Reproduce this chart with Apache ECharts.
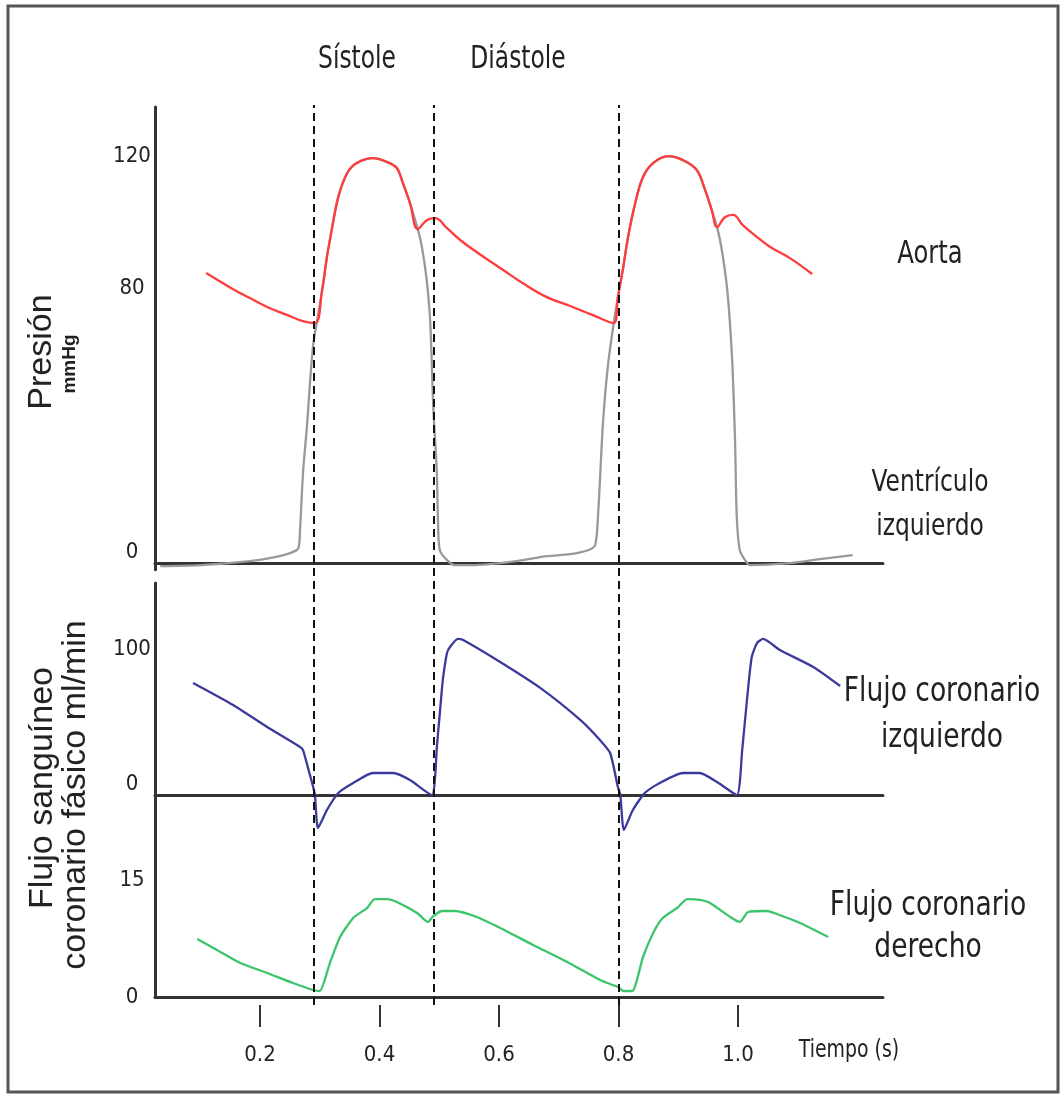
<!DOCTYPE html>
<html>
<head>
<meta charset="utf-8">
<script src="https://cdn.jsdelivr.net/npm/echarts@6/dist/echarts.min.js"></script>
<style>html,body{margin:0;padding:0;background:#fff}#c{width:1063px;height:1097px}</style>
</head>
<body>
<div id="c"></div>
<script>
// ---- data (time in s) ----
const xTicks = [0.2, 0.4, 0.6, 0.8, 1.0];
const pressureTicks = [0, 80, 120];
const leftFlowTicks = [0, 100];
const rightFlowTicks = [0, 15];
const phaseMarks = [0.289, 0.49, 0.8];

// Aorta pressure (mmHg)
const aorta = [
  [0.110,87.9],[0.155,83.0],[0.183,80.3],[0.212,77.6],[0.245,75.2],[0.272,73.3],[0.292,72.7],
  [0.304,82.7],[0.312,92.7],[0.320,100.9],[0.331,110.9],[0.346,118.2],[0.362,121.2],[0.389,122.7],
  [0.413,121.5],[0.429,119.7],[0.439,115.2],[0.451,109.1],[0.464,101.2],[0.479,103.9],[0.493,104.5],
  [0.513,101.5],[0.535,97.9],[0.563,94.2],[0.607,88.8],[0.640,84.8],[0.680,80.6],[0.719,77.9],
  [0.756,75.2],[0.792,72.7],
  [0.799,80.6],[0.808,89.7],[0.816,98.8],[0.828,109.1],[0.841,117.0],[0.858,121.2],[0.883,123.3],
  [0.908,122.1],[0.931,119.1],[0.945,113.0],[0.956,107.0],[0.965,101.8],[0.978,104.8],[0.992,105.5],
  [1.008,102.4],[1.032,98.8],[1.054,95.8],[1.087,92.4],[1.124,87.6]
];
// Left ventricle pressure (mmHg)
const ventricle = [
  [0.033,-0.9],[0.100,-0.6],[0.183,0.6],[0.225,1.8],[0.250,3.0],[0.264,4.5],[0.267,10.0],[0.272,27.3],
  [0.279,42.4],[0.284,55.5],[0.289,66.1],[0.294,71.8],
  [0.304,82.7],[0.312,92.7],[0.320,100.9],[0.331,110.9],[0.346,118.2],[0.362,121.2],[0.389,122.7],
  [0.413,121.5],[0.429,119.7],[0.439,115.2],[0.451,109.1],[0.464,101.2],
  [0.471,95.8],[0.479,85.8],[0.485,72.7],[0.490,47.3],[0.496,27.3],[0.498,12.1],[0.501,3.9],[0.513,0.9],
  [0.526,-0.6],[0.560,-0.6],[0.602,0],[0.640,0.9],[0.680,2.1],[0.719,2.7],[0.749,3.9],[0.761,5.5],
  [0.766,15.2],[0.769,25.2],[0.774,42.4],[0.782,59.4],[0.792,72.7],
  [0.799,80.6],[0.808,89.7],[0.816,98.8],[0.828,109.1],[0.841,117.0],[0.858,121.2],[0.883,123.3],
  [0.908,122.1],[0.931,119.1],[0.945,113.0],[0.956,107.0],[0.965,101.8],
  [0.973,94.8],[0.982,82.7],[0.990,62.4],[0.995,37.3],[0.998,13.9],[1.003,3.9],[1.012,0.9],[1.020,-0.6],
  [1.087,0],[1.137,1.2],[1.192,2.4]
];
// Left coronary flow (ml/min)
const leftCoronary = [
  [0.088,83.0],[0.155,66.7],[0.212,50.4],[0.267,35.6],[0.272,33.3],[0.280,20.7],[0.289,5.9],[0.292,0],
  [0.297,-24.4],[0.312,-11.1],[0.331,1.5],[0.356,8.9],[0.389,16.3],[0.423,16.3],[0.451,11.1],[0.488,0],
  [0.493,13.3],[0.496,35.6],[0.501,60.7],[0.506,85.2],[0.513,105.2],[0.518,109.6],[0.531,115.6],
  [0.540,114.8],[0.602,98.5],[0.669,79.3],[0.736,55.6],[0.769,40.7],[0.786,31.1],[0.799,5.9],[0.803,0],
  [0.809,-25.9],[0.824,-11.1],[0.844,1.5],[0.869,8.9],[0.908,16.3],[0.936,16.3],[0.965,9.6],[0.998,0],
  [1.007,33.3],[1.015,70.4],[1.023,102.2],[1.032,112.6],[1.042,115.6],[1.070,107.4],[1.126,94.8],[1.171,80.7]
];
// Right coronary flow (ml/min)
const rightCoronary = [
  [0.095,7.44],[0.128,6.03],[0.167,4.36],[0.212,3.08],[0.255,1.79],[0.289,0.90],[0.300,0.77],
  [0.317,4.36],[0.334,7.69],[0.356,10.13],[0.379,11.41],[0.392,12.56],[0.413,12.56],[0.429,12.18],
  [0.463,10.77],[0.481,9.62],[0.490,10.38],[0.505,11.03],[0.526,11.03],[0.563,10.26],[0.602,8.85],
  [0.657,6.67],[0.714,4.49],[0.769,2.18],[0.799,1.28],[0.808,0.77],[0.823,0.77],[0.841,5.13],
  [0.858,8.21],[0.874,10.13],[0.898,11.41],[0.915,12.56],[0.936,12.44],[0.953,12.05],[0.987,10.26],
  [1.003,9.62],[1.017,10.90],[1.049,11.03],[1.065,10.64],[1.104,9.49],[1.151,7.69]
];

// ---- layout ----
const T_MIN = 0.02427, T_MAX = 1.24268;
const NARROW = "'DejaVu Sans Condensed','Liberation Sans Narrow',sans-serif";
const SANS = "'Liberation Sans',Arial,sans-serif";
const AX = '#333';
const L = 155, W = 728;

function xAxisBase(gi) {
  return {
    type: 'value', gridIndex: gi, min: T_MIN, max: T_MAX,
    axisLine: {show: true, onZero: true, lineStyle: {color: AX, width: 3}},
    axisTick: {show: false}, axisLabel: {show: false}, splitLine: {show: false}
  };
}
function yAxisBase(gi, min, max, ticks, va) {
  return {
    type: 'value', gridIndex: gi, min: min, max: max,
    axisLine: {show: true, onZero: false, lineStyle: {color: AX, width: 3}},
    axisTick: {show: false}, splitLine: {show: false},
    axisLabel: {
      show: true, customValues: ticks, align: 'center', verticalAlign: va, margin: 23,
      fontFamily: NARROW, fontSize: 22, color: '#222'
    }
  };
}

const chart = echarts.init(document.getElementById('c'), null, {renderer: 'canvas'});
const lineS = (name, data, xi, color, z, sm) => ({
  name, type: 'line', xAxisIndex: xi, yAxisIndex: xi, data,
  showSymbol: false, symbol: 'none', smooth: sm,
  lineStyle: {color, width: 2.3}, z, silent: true, animation: false
});
const label = (text, x, y, size, sy, lh) => ({
  type: 'text', x, y, scaleY: sy, silent: true,
  style: {text, font: `${size}px ${NARROW}`, lineHeight: lh, fill: '#222', align: 'center', verticalAlign: 'middle'}
});

chart.setOption({
  animation: false,
  backgroundColor: '#fff',
  grid: [
    {left: L, width: W, top: 107, height: 462.7},
    {left: L, width: W, top: 583, height: 262},
    {left: L, width: W, top: 845, height: 152},
    {left: L, width: W, top: 105, height: 900}
  ],
  xAxis: [
    xAxisBase(0), xAxisBase(1), xAxisBase(2),
    {
      type: 'value', gridIndex: 3, min: T_MIN, max: T_MAX,
      axisLine: {show: false},
      axisTick: {show: true, customValues: xTicks, length: 22, inside: false, lineStyle: {color: AX, width: 2}},
      axisLabel: {show: true, customValues: xTicks, margin: 50, verticalAlign: 'middle',
        formatter: v => v.toFixed(1), fontFamily: NARROW, fontSize: 22, color: '#222'},
      splitLine: {show: false}
    }
  ],
  yAxis: [
    yAxisBase(0, -2, 138.2, pressureTicks, 'bottom'),
    yAxisBase(1, -37, 157, leftFlowTicks, 'bottom'),
    yAxisBase(2, 0, 19.49, rightFlowTicks, 'middle'),
    {type: 'value', gridIndex: 3, min: 0, max: 1, show: false}
  ],
  series: [
    lineS('Ventrículo izquierdo', ventricle, 0, '#999999', 2, 0.3),
    lineS('Aorta', aorta, 0, '#ff3b3b', 3, 0.4),
    lineS('Flujo coronario izquierdo', leftCoronary, 1, '#3a3a9c', 3, 0.2),
    lineS('Flujo coronario derecho', rightCoronary, 2, '#3cc46a', 3, 0.2),
    {
      type: 'line', xAxisIndex: 3, yAxisIndex: 3, data: [[0.5, 0.5]],
      showSymbol: false, symbol: 'none', lineStyle: {opacity: 0}, silent: true, z: 5,
      markLine: {
        silent: true, symbol: ['none', 'none'], label: {show: false}, animation: false,
        lineStyle: {color: '#111', width: 2, type: [8, 5]},
        data: phaseMarks.map(v => ({xAxis: v}))
      }
    }
  ],
  graphic: [
    {type: 'rect', shape: {x: 8, y: 6, width: 1050, height: 1086}, style: {fill: 'none', stroke: '#555', lineWidth: 3}, silent: true},
    label('Sístole', 357, 60, 26, 1.2),
    label('Diástole', 518, 60, 26, 1.2),
    label('Aorta', 930, 255, 27, 1.15),
    label('Ventrículo\nizquierdo', 930, 505, 26, 1.15, 38),
    label('Flujo coronario\nizquierdo', 942, 715, 29.5, 1.15, 40),
    label('Flujo coronario\nderecho', 928, 927, 29.5, 1.15, 36),
    label('Tiempo (s)', 849, 1050, 21, 1.2),
    {type: 'text', x: 42, y: 352, rotation: Math.PI / 2, style: {text: 'Presión', font: `34px ${SANS}`, fill: '#222', align: 'center', verticalAlign: 'middle'}},
    {type: 'text', x: 70, y: 364, rotation: Math.PI / 2, style: {text: 'mmHg', font: `bold 19px ${SANS}`, fill: '#222', align: 'center', verticalAlign: 'middle'}},
    {type: 'text', x: 43, y: 788, rotation: Math.PI / 2, style: {text: 'Flujo sanguíneo', font: `34px ${SANS}`, fill: '#222', align: 'center', verticalAlign: 'middle'}},
    {type: 'text', x: 76, y: 795, rotation: Math.PI / 2, style: {text: 'coronario fásico ml/min', font: `34px ${SANS}`, fill: '#222', align: 'center', verticalAlign: 'middle'}}
  ]
});
</script>
</body>
</html>
